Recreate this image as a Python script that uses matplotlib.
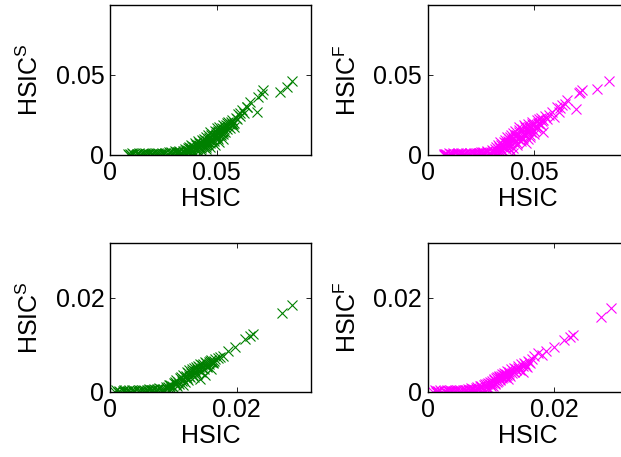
import matplotlib

matplotlib.use("Agg")
import matplotlib.pyplot as plt

plt.rcParams["font.family"] = ["Liberation Sans", "DejaVu Sans"]
plt.rcParams["mathtext.fontset"] = "custom"
plt.rcParams["mathtext.rm"] = "Liberation Sans"

FS = 18
GREEN, MAGENTA = "#008000", "#ff00ff"

# --- top-left: HSIC vs HSIC^S (large scale) ---
s_top_x = [0.009, 0.010, 0.011, 0.012, 0.013, 0.014, 0.015, 0.016, 0.017, 0.018, 0.019, 0.020,
           0.021, 0.022, 0.023, 0.024, 0.025, 0.026, 0.027, 0.028, 0.029, 0.030, 0.031, 0.032,
           0.0095, 0.0125, 0.0155, 0.0185, 0.0215, 0.0245, 0.0275, 0.0305,
           0.033, 0.034, 0.035, 0.035, 0.036, 0.037, 0.037, 0.038, 0.038, 0.039, 0.040, 0.040,
           0.041, 0.041, 0.042, 0.042, 0.043, 0.043, 0.044, 0.044, 0.045, 0.045, 0.046, 0.046,
           0.047, 0.047, 0.048, 0.048, 0.049, 0.049, 0.050, 0.050, 0.051, 0.051, 0.052, 0.053,
           0.053, 0.054, 0.055, 0.055, 0.056, 0.057, 0.058, 0.059, 0.060, 0.061, 0.062, 0.063,
           0.064, 0.0656, 0.0687, 0.0695, 0.0711, 0.0719, 0.0797, 0.0828, 0.0851,
           0.039, 0.041, 0.043, 0.045, 0.047, 0.049, 0.051, 0.053, 0.044, 0.046, 0.048, 0.050,
           0.052, 0.054, 0.056, 0.058, 0.0641, 0.0609, 0.0594, 0.0570, 0.0555, 0.0539]
s_top_y = [0.0000, 0.0000, 0.0001, 0.0000, 0.0001, 0.0000, 0.0001, 0.0002, 0.0001, 0.0002, 0.0001, 0.0003,
           0.0002, 0.0004, 0.0003, 0.0005, 0.0004, 0.0007, 0.0006, 0.0009, 0.0008, 0.0012, 0.0010, 0.0015,
           0.0006, 0.0005, 0.0007, 0.0006, 0.0008, 0.0010, 0.0013, 0.0020,
           0.0010, 0.0025, 0.0018, 0.0035, 0.0030, 0.0045, 0.0022, 0.0040, 0.0060, 0.0050, 0.0035, 0.0070,
           0.0060, 0.0085, 0.0050, 0.0075, 0.0090, 0.0065, 0.0100, 0.0080, 0.0110, 0.0060, 0.0095, 0.0125,
           0.0110, 0.0140, 0.0085, 0.0130, 0.0150, 0.0115, 0.0140, 0.0165, 0.0125, 0.0175, 0.0155, 0.0185,
           0.0140, 0.0170, 0.0200, 0.0160, 0.0190, 0.0215, 0.0200, 0.0230, 0.0255, 0.0240, 0.0280, 0.0260,
           0.0300, 0.0331, 0.0268, 0.0363, 0.0380, 0.0405, 0.0394, 0.0422, 0.0462,
           0.0010, 0.0020, 0.0025, 0.0035, 0.0045, 0.0060, 0.0080, 0.0100, 0.0045, 0.0065, 0.0100, 0.0110,
           0.0120, 0.0140, 0.0165, 0.0175, 0.0299, 0.0258, 0.0226, 0.0194, 0.0204, 0.0173]
# extra points filling the dense part of the cloud and the flat band
s_top_dense_x = [0.0355, 0.0365, 0.0375, 0.0385, 0.0395, 0.0405, 0.0415, 0.0425, 0.0435, 0.0445, 0.0455,
                 0.0465, 0.0475, 0.0485, 0.0495, 0.0505, 0.0515, 0.0525, 0.0535, 0.0545, 0.0555, 0.0565,
                 0.0575, 0.0358, 0.0368, 0.0378, 0.0388, 0.0398, 0.0408, 0.0418, 0.0428, 0.0438, 0.0448,
                 0.0458, 0.0468, 0.0478, 0.0488, 0.0498, 0.0508, 0.0518, 0.0528,
                 0.0085, 0.0105, 0.0135, 0.0165, 0.0195, 0.0225, 0.0255, 0.0285, 0.0315, 0.0325, 0.0335, 0.0345]
s_top_dense_y = [0.0025, 0.0038, 0.0032, 0.0052, 0.0045, 0.0062, 0.0072, 0.0068, 0.0082, 0.0092, 0.0088,
                 0.0105, 0.0120, 0.0118, 0.0132, 0.0150, 0.0145, 0.0165, 0.0160, 0.0185, 0.0180, 0.0205,
                 0.0195, 0.0012, 0.0015, 0.0028, 0.0020, 0.0042, 0.0030, 0.0048, 0.0040, 0.0058, 0.0050,
                 0.0078, 0.0072, 0.0095, 0.0082, 0.0122, 0.0100, 0.0138, 0.0128,
                 0.0003, 0.0008, 0.0009, 0.0010, 0.0004, 0.0012, 0.0006, 0.0015, 0.0018, 0.0024, 0.0008, 0.0012]

# --- top-right: HSIC vs HSIC^F (large scale) ---
f_top_x = [0.0075, 0.0085, 0.0095, 0.0105, 0.0115, 0.0125, 0.0135, 0.0145, 0.0155, 0.0165, 0.0175,
           0.0185, 0.0195, 0.0205, 0.0215, 0.0225, 0.0235, 0.0245, 0.0255, 0.0265, 0.0275, 0.0285,
           0.008, 0.011, 0.014, 0.017, 0.020, 0.023, 0.025,
           0.026, 0.028, 0.029, 0.030, 0.031, 0.032, 0.033, 0.033, 0.034, 0.034, 0.035, 0.035,
           0.036, 0.036, 0.037, 0.037, 0.038, 0.038, 0.039, 0.039, 0.040, 0.040, 0.040, 0.041,
           0.041, 0.042, 0.042, 0.043, 0.043, 0.044, 0.044, 0.045, 0.045, 0.046, 0.046, 0.047,
           0.047, 0.048, 0.048, 0.049, 0.049, 0.050, 0.050, 0.051, 0.051, 0.052, 0.052, 0.053,
           0.053, 0.054, 0.054, 0.055, 0.056, 0.057, 0.058, 0.059, 0.0607, 0.062, 0.063, 0.0654,
           0.0693, 0.0708, 0.0724, 0.0795, 0.0850, 0.0615, 0.0645, 0.0715]
f_top_y = [0.0000, 0.0001, 0.0000, 0.0001, 0.0000, 0.0002, 0.0001, 0.0002, 0.0001, 0.0003, 0.0002,
           0.0004, 0.0003, 0.0005, 0.0004, 0.0006, 0.0005, 0.0008, 0.0007, 0.0010, 0.0008, 0.0012,
           0.0006, 0.0005, 0.0007, 0.0006, 0.0009, 0.0011, 0.0015,
           0.0012, 0.0020, 0.0010, 0.0030, 0.0018, 0.0045, 0.0025, 0.0060, 0.0040, 0.0080, 0.0030, 0.0065,
           0.0050, 0.0090, 0.0075, 0.0110, 0.0040, 0.0095, 0.0120, 0.0070, 0.0105, 0.0135, 0.0010, 0.0085,
           0.0150, 0.0120, 0.0060, 0.0140, 0.0170, 0.0100, 0.0160, 0.0185, 0.0130, 0.0075, 0.0165, 0.0195,
           0.0145, 0.0110, 0.0180, 0.0205, 0.0160, 0.0130, 0.0195, 0.0215, 0.0175, 0.0200, 0.0225, 0.0185,
           0.0230, 0.0141, 0.0215, 0.0240, 0.0226, 0.0250, 0.0265, 0.0236, 0.0299, 0.0290, 0.0310, 0.0342,
           0.0289, 0.0388, 0.0405, 0.0409, 0.0462, 0.0268, 0.0320, 0.0395]
f_top_dense_x = [0.0305, 0.0315, 0.0325, 0.0335, 0.0345, 0.0355, 0.0365, 0.0375, 0.0385, 0.0395, 0.0405,
                 0.0415, 0.0425, 0.0435, 0.0445, 0.0455, 0.0465, 0.0475, 0.0485, 0.0495, 0.0505, 0.0515,
                 0.0525, 0.0535, 0.0308, 0.0318, 0.0328, 0.0338, 0.0348, 0.0358, 0.0368, 0.0378, 0.0388,
                 0.0398, 0.0408, 0.0418, 0.0428, 0.0438, 0.0448, 0.0458, 0.0468, 0.0478, 0.0488, 0.0498,
                 0.0078, 0.0098, 0.0118, 0.0138, 0.0158, 0.0178, 0.0198, 0.0218, 0.0238, 0.0258, 0.0278, 0.0295]
f_top_dense_y = [0.0022, 0.0035, 0.0015, 0.0050, 0.0062, 0.0045, 0.0070, 0.0060, 0.0108, 0.0090, 0.0080,
                 0.0125, 0.0095, 0.0112, 0.0142, 0.0120, 0.0150, 0.0172, 0.0140, 0.0185, 0.0165, 0.0200,
                 0.0190, 0.0210, 0.0008, 0.0012, 0.0032, 0.0020, 0.0025, 0.0078, 0.0035, 0.0088, 0.0055,
                 0.0040, 0.0115, 0.0070, 0.0155, 0.0085, 0.0105, 0.0175, 0.0095, 0.0125, 0.0195, 0.0148,
                 0.0004, 0.0007, 0.0009, 0.0005, 0.0008, 0.0010, 0.0007, 0.0011, 0.0009, 0.0013, 0.0016, 0.0006]

# --- bottom-left: HSIC vs HSIC^S (small scale) ---
s_bot_x = [0.0008, 0.0012, 0.0016, 0.0020, 0.0024, 0.0028, 0.0032, 0.0036, 0.0040, 0.0044,
           0.0048, 0.0052, 0.0056, 0.0060, 0.0064, 0.0068, 0.0072, 0.0076, 0.0080,
           0.0010, 0.0030, 0.0050, 0.0070,
           0.0084, 0.0088, 0.0092, 0.0095, 0.0098, 0.0101, 0.0104, 0.0105, 0.0108, 0.0111,
           0.0113, 0.0116, 0.0116, 0.0119, 0.0121, 0.0123, 0.0125, 0.0125, 0.0128, 0.0130,
           0.0132, 0.0134, 0.0136, 0.0137, 0.0139, 0.0141, 0.0142, 0.0142, 0.0145, 0.0147,
           0.0150, 0.0150, 0.0153, 0.0156, 0.0158, 0.0160, 0.0160, 0.0163, 0.0166, 0.0170,
           0.0174, 0.0178, 0.0187, 0.0197, 0.0213, 0.0221, 0.0226, 0.0271, 0.0288]
s_bot_y = [0.0000, 0.0000, 0.0000, 0.0001, 0.0000, 0.0001, 0.0000, 0.0001, 0.0001, 0.0001,
           0.0002, 0.0001, 0.0002, 0.0002, 0.0003, 0.0003, 0.0004, 0.0004, 0.0005,
           0.0003, 0.0003, 0.0004, 0.0006,
           0.0006, 0.0010, 0.0009, 0.0014, 0.0012, 0.0018, 0.0015, 0.0024, 0.0020, 0.0028,
           0.0022, 0.0014, 0.0036, 0.0030, 0.0041, 0.0025, 0.0045, 0.0034, 0.0039, 0.0048,
           0.0030, 0.0044, 0.0052, 0.0038, 0.0055, 0.0046, 0.0059, 0.0027, 0.0050, 0.0058,
           0.0035, 0.0063, 0.0055, 0.0062, 0.0066, 0.0048, 0.0068, 0.0064, 0.0069, 0.0071,
           0.0073, 0.0075, 0.0087, 0.0096, 0.0112, 0.0119, 0.0123, 0.0168, 0.0185]
s_bot_dense_x = [0.0086, 0.0090, 0.0094, 0.0097, 0.0100, 0.0103, 0.0106, 0.0109, 0.0112, 0.0115,
                 0.0118, 0.0120, 0.0122, 0.0124, 0.0127, 0.0129, 0.0131, 0.0133, 0.0135, 0.0138,
                 0.0140, 0.0143, 0.0146, 0.0148, 0.0151, 0.0154, 0.0157, 0.0159, 0.0162, 0.0165,
                 0.0014, 0.0022, 0.0026, 0.0034, 0.0038, 0.0046, 0.0054, 0.0058, 0.0062, 0.0066,
                 0.0074, 0.0078, 0.0082]
s_bot_dense_y = [0.0003, 0.0005, 0.0013, 0.0008, 0.0010, 0.0021, 0.0012, 0.0017, 0.0031, 0.0026,
                 0.0021, 0.0033, 0.0028, 0.0040, 0.0030, 0.0043, 0.0036, 0.0050, 0.0042, 0.0047,
                 0.0052, 0.0041, 0.0057, 0.0049, 0.0060, 0.0052, 0.0058, 0.0063, 0.0060, 0.0066,
                 0.0002, 0.0003, 0.0002, 0.0003, 0.0002, 0.0003, 0.0004, 0.0003, 0.0005, 0.0004,
                 0.0005, 0.0007, 0.0003]

# --- bottom-right: HSIC vs HSIC^F (small scale) ---
f_bot_x = [0.0009, 0.0013, 0.0017, 0.0021, 0.0025, 0.0029, 0.0033, 0.0037, 0.0041, 0.0045,
           0.0049, 0.0053, 0.0057, 0.0061, 0.0065, 0.0069, 0.0072,
           0.0011, 0.0031, 0.0051, 0.0068,
           0.0075, 0.0078, 0.0081, 0.0084, 0.0087, 0.0090, 0.0093, 0.0095, 0.0097, 0.0099,
           0.0101, 0.0103, 0.0105, 0.0107, 0.0109, 0.0111, 0.0113, 0.0115, 0.0117, 0.0119,
           0.0121, 0.0123, 0.0125, 0.0127, 0.0129, 0.0131, 0.0133, 0.0136, 0.0139, 0.0142,
           0.0145, 0.0148, 0.0150, 0.0152, 0.0155, 0.0158, 0.0161, 0.0164, 0.0168,
           0.0174, 0.0180, 0.0187, 0.0199, 0.0216, 0.0224, 0.0229, 0.0273, 0.0289]
f_bot_y = [0.0000, 0.0000, 0.0001, 0.0000, 0.0001, 0.0000, 0.0001, 0.0001, 0.0001, 0.0002,
           0.0001, 0.0002, 0.0002, 0.0003, 0.0003, 0.0004, 0.0005,
           0.0003, 0.0003, 0.0004, 0.0007,
           0.0004, 0.0009, 0.0006, 0.0012, 0.0008, 0.0015, 0.0010, 0.0019, 0.0004, 0.0016,
           0.0022, 0.0012, 0.0026, 0.0019, 0.0030, 0.0022, 0.0034, 0.0026, 0.0037, 0.0030,
           0.0040, 0.0033, 0.0043, 0.0026, 0.0038, 0.0047, 0.0040, 0.0050, 0.0045, 0.0054,
           0.0048, 0.0058, 0.0041, 0.0061, 0.0055, 0.0065, 0.0060, 0.0069, 0.0076,
           0.0082, 0.0078, 0.0087, 0.0096, 0.0111, 0.0117, 0.0121, 0.0160, 0.0178]
f_bot_dense_x = [0.0076, 0.0080, 0.0083, 0.0086, 0.0089, 0.0092, 0.0094, 0.0096, 0.0098, 0.0100,
                 0.0102, 0.0104, 0.0106, 0.0108, 0.0110, 0.0112, 0.0114, 0.0116, 0.0118, 0.0120,
                 0.0122, 0.0124, 0.0126, 0.0128, 0.0130, 0.0134, 0.0137, 0.0140, 0.0143, 0.0146,
                 0.0150, 0.0154, 0.0157, 0.0160,
                 0.0015, 0.0019, 0.0027, 0.0035, 0.0039, 0.0043, 0.0047, 0.0055, 0.0059, 0.0063,
                 0.0067, 0.0070, 0.0074]
f_bot_dense_y = [0.0008, 0.0003, 0.0012, 0.0005, 0.0014, 0.0009, 0.0017, 0.0007, 0.0021, 0.0012,
                 0.0018, 0.0025, 0.0016, 0.0028, 0.0020, 0.0031, 0.0024, 0.0033, 0.0028, 0.0036,
                 0.0030, 0.0038, 0.0035, 0.0041, 0.0034, 0.0044, 0.0042, 0.0048, 0.0051, 0.0046,
                 0.0054, 0.0058, 0.0052, 0.0062,
                 0.0002, 0.0003, 0.0002, 0.0003, 0.0002, 0.0003, 0.0003, 0.0004, 0.0003, 0.0005,
                 0.0004, 0.0006, 0.0003]


def draw(ax, x, y, color, lim, tick, ylabel):
    ax.plot(x, y, "x", color=color, markersize=6.5, markeredgewidth=0.8)
    ax.set_xlim(0, lim)
    ax.set_ylim(0, lim)
    ax.set_xticks([0, tick])
    ax.set_yticks([0, tick])
    ax.set_xticklabels(["0", f"{tick:g}"])
    ax.set_yticklabels(["0", f"{tick:g}"])
    ax.tick_params(direction="in", top=True, right=True, length=3.5, width=0.6,
                   labelsize=FS)
    ax.tick_params(axis="x", pad=5)
    ax.tick_params(axis="y", pad=4)
    ax.set_xlabel("HSIC", fontsize=FS, labelpad=1)
    ax.set_ylabel(ylabel, fontsize=FS, labelpad=9)
    for sp in ax.spines.values():
        sp.set_linewidth(1.0)


fig = plt.figure(figsize=(6.21, 4.57), dpi=100)
w, h = 0.3232, 0.3271
ax_tl = fig.add_axes([0.1771, 0.6619, w, h])
ax_tr = fig.add_axes([0.6887, 0.6619, w, h])
ax_bl = fig.add_axes([0.1771, 0.1433, w, 0.3249])
ax_br = fig.add_axes([0.6887, 0.1433, w, 0.3249])

draw(ax_tl, s_top_x + s_top_dense_x, s_top_y + s_top_dense_y, GREEN, 0.094, 0.05,
     r"HSIC$^{\mathrm{S}}$")
draw(ax_tr, f_top_x + f_top_dense_x, f_top_y + f_top_dense_y, MAGENTA, 0.094, 0.05,
     r"HSIC$^{\mathrm{F}}$")
draw(ax_bl, s_bot_x + s_bot_dense_x, s_bot_y + s_bot_dense_y, GREEN, 0.0317, 0.02,
     r"HSIC$^{\mathrm{S}}$")
draw(ax_br, f_bot_x + f_bot_dense_x, f_bot_y + f_bot_dense_y, MAGENTA, 0.0317, 0.02,
     r"HSIC$^{\mathrm{F}}$")

fig.savefig("out.png", dpi=100)
